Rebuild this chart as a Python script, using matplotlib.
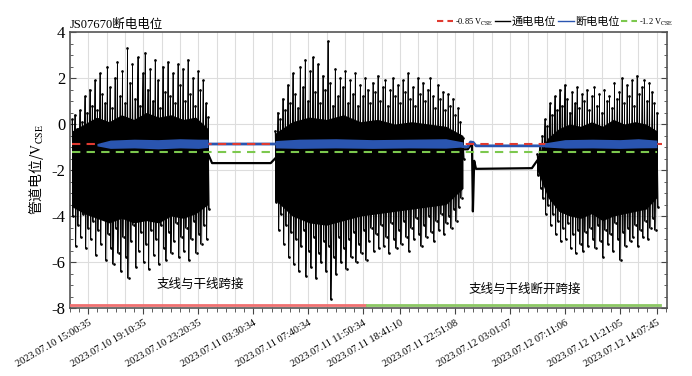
import numpy as np
import matplotlib.pyplot as plt
from matplotlib.lines import Line2D
from matplotlib.ticker import MultipleLocator

plt.rcParams['font.family'] = ['Liberation Serif', 'Noto Sans CJK SC']
plt.rcParams['mathtext.fontset'] = 'stix'
plt.rcParams['axes.unicode_minus'] = False

# x axis is the record index (one unit = one grid step)
tick_pos = [0, 3, 6, 9, 12, 15, 17, 20, 23, 26, 29, 31]
tick_labels = ['2023.07.10 15:00:35', '2023.07.10 19:10:35', '2023.07.10 23:20:35',
               '2023.07.11 03:30:34', '2023.07.11 07:40:34', '2023.07.11 11:50:34',
               '2023.07.11 18:41:10', '2023.07.11 22:51:08', '2023.07.12 03:01:07',
               '2023.07.12 07:11:06', '2023.07.12 11:21:05', '2023.07.12 14:07:45']

# noisy on-potential segments: span, spike tops / bottoms, dense core
seg_a_span = (-0.89, 6.53)
seg_a_hi = [0.2, 0.4, -0.2, 0.6, 0.1, 1.2, 0.5, 1.5, 0.8, 1.9, 0.6, 2.2, 1.3, 0.9,
            2.5, 1.6, 0.7, 2.0, 2.7, 1.2, 2.3, 0.9, 3.3, 1.8, 2.6, 1.1, 2.9, 0.8,
            2.2, 3.1, 1.5, 2.4, 1.0, 2.8, 1.9, 0.7, 2.5, 1.4, 2.7, 1.2, 2.2, 0.9, 2.6, 1.7,
            2.4, 1.0, 2.8, 1.3, 2.0, 0.8, 2.3, 1.5, 1.9, 0.9, 0.3]
seg_a_lo = [-4.0, -5.3, -4.4, -4.9, -3.9, -5.4, -4.5, -5.0, -4.2, -5.7, -4.6, -5.2, -4.0, -5.9,
            -4.8, -5.4, -6.1, -4.5, -5.6, -6.4, -4.9, -5.8, -6.7, -5.1, -4.4, -6.2,
            -5.5, -4.7, -6.0, -5.2, -6.3, -4.6, -5.7, -5.0, -6.1, -4.4, -5.4, -5.9,
            -4.7, -5.6, -5.1, -4.3, -5.8, -4.9, -5.5, -4.5, -5.9, -5.0, -4.2, -5.6,
            -4.8, -5.2, -4.4, -5.0, -3.7]
seg_a_core = ([-0.3, 0.0, 0.3, 0.1, 0.4, 0.2, 0.5, 0.3, 0.4, 0.2, 0.3, -0.2],
              [-3.6, -3.9, -4.1, -4.3, -4.1, -4.3, -4.2, -4.3, -4.0, -4.1, -3.9, -3.5])

seg_b_span = (10.19, 20.44)
seg_b_hi = [-0.3, 0.5, 0.2, 1.1, 0.6, 1.7, 0.9, 2.2, 1.3, 0.7,
            2.5, 1.6, 2.8, 1.0, 2.3, 2.9, 1.4, 2.6, 0.9, 2.1,
            1.5, 3.6, 1.8, 0.8, 2.4, 1.2, 2.0, 1.6, 2.3, 0.9,
            1.9, 1.3, 2.2, 0.8, 1.7, 1.2, 2.0, 1.5, 0.9, 1.8,
            1.4, 2.1, 1.0, 1.6, 1.9, 0.8, 1.5, 2.0, 1.2, 1.7,
            0.9, 1.9, 1.4, 2.2, 1.1, 1.6, 0.8, 2.0, 1.3, 1.8,
            1.0, 1.5, 2.0, 1.2, 0.7, 1.7, 1.1, 1.4, 0.6, 1.3,
            0.8, 1.1, 0.4, 0.7, 0.1, -0.6]
seg_b_lo = [-3.4, -4.6, -3.9, -5.2, -4.4, -5.8, -4.7, -6.1, -5.0, -6.4,
            -5.3, -4.6, -6.6, -5.5, -6.2, -4.9, -6.7, -5.6, -6.0, -5.1,
            -6.4, -5.3, -7.6, -5.8, -6.5, -4.9, -6.0, -5.4, -6.3, -5.0,
            -5.8, -4.7, -6.0, -5.2, -5.6, -4.6, -5.9, -5.1, -4.5, -5.5,
            -4.8, -5.4, -4.4, -5.3, -4.9, -5.6, -4.3, -5.0, -5.4, -4.6,
            -5.2, -4.2, -4.9, -5.5, -4.5, -5.0, -4.1, -4.8, -5.3, -4.4,
            -4.9, -4.0, -4.7, -5.1, -4.2, -4.6, -3.9, -4.8, -4.3, -4.0,
            -4.5, -3.7, -4.2, -3.6, -3.2, -1.5]
seg_b_core = ([-0.4, 0.1, 0.3, 0.2, 0.4, 0.1, 0.2, 0.0, 0.1, 0.0, -0.1, -0.5],
              [-3.3, -4.0, -4.3, -4.4, -4.2, -4.0, -3.9, -3.8, -3.7, -3.6, -3.5, -2.8])

seg_c_span = (24.48, 31.02)
seg_c_hi = [-1.3, -0.9, -0.5, 0.2, -0.1, 0.9, 0.4, 1.2, 0.6, 1.5,
            0.8, 1.7, 1.1, 0.5, 1.4, 0.9, 1.6, 0.7, 1.3, 1.0,
            1.5, 0.6, 1.2, 1.6, 0.8, 1.3, 0.5, 1.5, 1.0, 1.2,
            0.7, 1.8, 1.1, 1.4, 2.0, 0.9, 1.7, 1.2, 1.9, 0.8,
            2.1, 1.3, 1.6, 1.9, 1.0, 1.8, 1.4, 0.9, 0.5]
seg_c_lo = [-2.2, -2.8, -3.2, -3.9, -3.5, -4.4, -3.9, -4.8, -4.2, -5.1,
            -4.5, -5.0, -4.3, -5.4, -4.8, -5.6, -4.6, -5.2, -5.5, -4.7,
            -5.3, -4.5, -5.0, -5.4, -4.4, -5.1, -5.8, -4.6, -5.2, -4.8,
            -5.5, -4.3, -5.0, -5.9, -4.7, -5.3, -4.5, -5.1, -4.9, -4.4,
            -5.3, -4.6, -4.9, -4.2, -5.0, -4.5, -4.1, -4.6, -3.6]
seg_c_core = ([-1.4, -0.6, -0.2, 0.0, -0.1, 0.1, -0.1, 0.2, 0.0, 0.1, 0.0, -0.3],
              [-2.0, -3.2, -3.8, -4.0, -4.1, -3.9, -4.2, -4.0, -3.9, -3.8, -3.7, -3.2])

# quiet on-potential stretches
quiet_on_x = [6.53, 6.75, 9.95, 10.19, np.nan, 20.44, 20.7, 20.93, 20.98, 21.05, 21.15, 24.2, 24.48]
quiet_on_y = [-1.3, -1.70, -1.70, -1.5, np.nan, -1.1, -1.1, -0.85, -3.8, -1.6, -1.95, -1.92, -1.6]

# off-potential: bands over noisy segments and quiet lines
off_a_x = [0.47, 1.2, 2.5, 3.8, 5.0, 6.0, 6.53]
off_a_top = [-0.85, -0.70, -0.66, -0.68, -0.64, -0.66, -0.66]
off_a_bot = [-0.95, -1.06, -1.04, -1.08, -1.04, -1.06, -1.02]
off_b_x = [10.19, 11.5, 13.5, 15.5, 17.5, 19.5, 20.44]
off_b_top = [-0.72, -0.66, -0.64, -0.68, -0.66, -0.64, -0.78]
off_b_bot = [-1.04, -1.06, -1.04, -1.06, -1.04, -1.05, -1.00]
off_c_x = [24.9, 26.0, 27.5, 29.0, 30.0, 31.02]
off_c_top = [-0.82, -0.68, -0.66, -0.68, -0.64, -0.70]
off_c_bot = [-1.00, -1.05, -1.04, -1.06, -1.04, -1.03]
quiet_off_x = [6.53, 10.19, np.nan, 20.44, 20.7, 20.85, 21.0, 21.15, 24.9]
quiet_off_y = [-0.87, -0.87, np.nan, -0.98, -0.99, -0.78, -0.80, -0.95, -0.95]

ref_x = (-0.89, 31.3)
green_x = (-0.89, 31.0)
period_cross = (-1.0, 15.1)
period_open = (15.2, 31.2)
period_level = -7.88

fig = plt.figure(figsize=(6.92, 3.76), dpi=100)
ax = fig.add_axes([70 / 692, 68 / 376, 597 / 692, 276 / 376])

for span, hi, lo, core in [(seg_a_span, seg_a_hi, seg_a_lo, seg_a_core),
                           (seg_b_span, seg_b_hi, seg_b_lo, seg_b_core),
                           (seg_c_span, seg_c_hi, seg_c_lo, seg_c_core)]:
    xs = np.linspace(span[0], span[1], len(hi))
    step = xs[1] - xs[0]
    zx = np.column_stack([xs, xs + step / 2]).ravel()
    zy = np.column_stack([hi, lo]).ravel()
    ax.plot(zx, zy, color='black', lw=0.5, marker='.', ms=1.8, zorder=3)
    ax.vlines(xs, lo, hi, color='black', lw=0.7, zorder=3)
    cx = np.linspace(span[0], span[1], len(core[0]))
    ax.fill_between(cx, core[0], core[1], color='black', lw=0, zorder=3)

ax.plot(quiet_on_x, quiet_on_y, color='black', lw=1.6, zorder=3)

ax.plot(quiet_off_x, quiet_off_y, color='#2a55b0', lw=2, zorder=4)
ax.plot(ref_x, [-0.85, -0.85], color='#e03a30', lw=1.5, dashes=(4, 3), zorder=4.5)
for bx, bt, bb in [(off_a_x, off_a_top, off_a_bot), (off_b_x, off_b_top, off_b_bot),
                   (off_c_x, off_c_top, off_c_bot)]:
    ax.fill_between(bx, bt, bb, color='#2a55b0', lw=0, zorder=5)
ax.plot(green_x, [-1.2, -1.2], color='#7cc84e', lw=1.5, dashes=(4, 3), zorder=6)

ax.plot(period_cross, [period_level] * 2, color='#f07070', lw=2, zorder=6)
ax.plot(period_open, [period_level] * 2, color='#8cc864', lw=2, zorder=6)
ax.text(6.1, -7.0, '支线与干线跨接', fontsize=9, ha='center', va='center')
ax.text(23.8, -7.2, '支线与干线断开跨接', fontsize=9, ha='center', va='center')

ax.set_xlim(-1.0, 31.57)
ax.set_ylim(-8, 4)
ax.set_yticks([-8, -6, -4, -2, 0, 2, 4])
ax.yaxis.set_minor_locator(MultipleLocator(0.5))
ax.set_xticks(tick_pos)
ax.set_xticklabels(tick_labels, rotation=30, ha='right', rotation_mode='anchor', fontsize=7.5)
ax.xaxis.set_minor_locator(MultipleLocator(0.5))
ax.tick_params(axis='y', labelsize=12, direction='in', right=True, which='both', colors='#444444',
               labelcolor='black')
ax.tick_params(axis='y', which='major', length=4)
ax.tick_params(axis='y', which='minor', length=2.5)
ax.tick_params(axis='x', which='major', length=4, colors='#444444', labelcolor='black')
ax.tick_params(axis='x', which='minor', length=3, colors='#444444')
for u in range(0, 32):
    ax.axvline(u, color='#dddddd', lw=0.8, zorder=0)
for v in [-6, -4, -2, 0, 2]:
    ax.axhline(v, color='#dddddd', lw=0.8, zorder=0)
for s in ax.spines.values():
    s.set_color('#555555')
    s.set_linewidth(1.2)

ax.set_ylabel('管道电位/$\\rm V_{CSE}$', fontsize=10, labelpad=4, family='Noto Sans CJK SC')
ax.set_title('JS07670断电电位', loc='left', fontsize=9, pad=3)

handles = [Line2D([], [], color='#e03a30', lw=1.5, dashes=(3, 2)),
           Line2D([], [], color='black', lw=1),
           Line2D([], [], color='#2a55b0', lw=1),
           Line2D([], [], color='#7cc84e', lw=1.5, dashes=(3, 2))]
labels = ['-0.85 V$_{\\rm CSE}$', '通电电位', '断电电位', '-1.2 V$_{\\rm CSE}$']
leg = ax.legend(handles, labels, loc='center right', bbox_to_anchor=(1.01, 1.036), ncol=4,
                frameon=False, fontsize=8, handlelength=1.4, handletextpad=0.15,
                columnspacing=0.15, borderpad=0, borderaxespad=0)
leg.get_texts()[0].set_fontsize(6)
leg.get_texts()[3].set_fontsize(6)

fig.savefig('out.png', dpi=100)
